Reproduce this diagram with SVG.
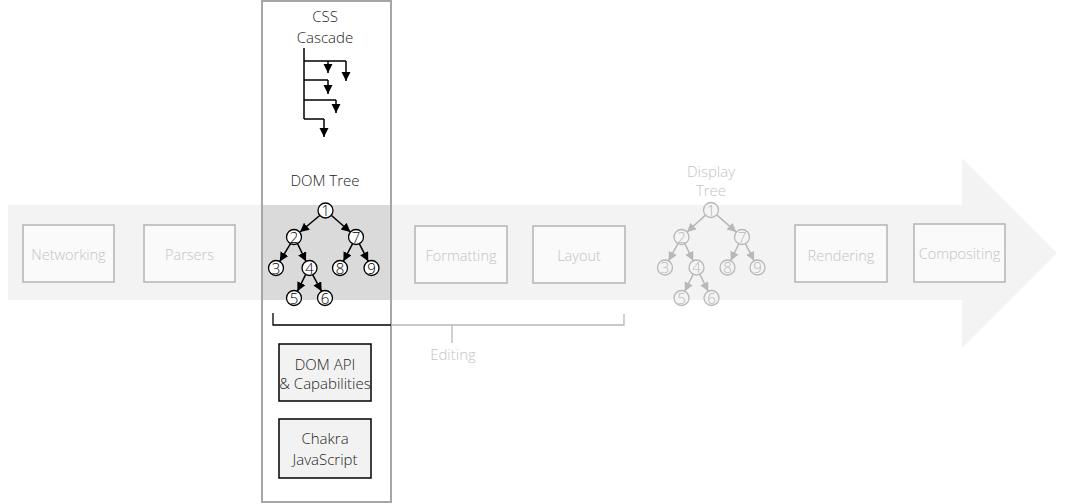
<svg xmlns="http://www.w3.org/2000/svg" width="1072" height="504" viewBox="0 0 1072 504">
<defs>
<marker id="ab" markerUnits="userSpaceOnUse" markerWidth="10" markerHeight="10" refX="9" refY="4.5" orient="auto"><path d="M0,0 L9,4.5 L0,9 z" fill="#000"/></marker>
<marker id="ag" markerUnits="userSpaceOnUse" markerWidth="10" markerHeight="10" refX="9" refY="4.5" orient="auto"><path d="M0,0 L9,4.5 L0,9 z" fill="#b8b8b8"/></marker>
</defs>
<style>
text{font-family:"Open Sans","Noto Sans","Liberation Sans",sans-serif;font-size:15px;font-weight:300;text-anchor:middle}
.stage rect{fill:#fafafa;stroke:#b4b4b4;stroke-width:1.5}
.stage text{fill:#c4c4c4;font-size:14.5px}
.lt{fill:#c4c4c4}
.dk{fill:#222}
.bl{stroke:#000;stroke-width:1.5;fill:none}
.bla{stroke:#000;stroke-width:1.5;fill:none;marker-end:url(#ab)}
.gra{stroke:#b8b8b8;stroke-width:1.5;fill:none;marker-end:url(#ag)}
.dn circle{fill:#fff;stroke:#000;stroke-width:1.3}
.dn text{fill:#000}
.gn circle{fill:#f4f4f4;stroke:#b8b8b8;stroke-width:1.3}
.gn text{fill:#b8b8b8}
.api rect{fill:#f2f2f2;stroke:#000;stroke-width:1.5}
</style>
<polygon id="pipeline" points="8,205 962,205 962,158 1057,253 962,348 962,300 8,300" fill="#f3f3f3"/>
<rect id="dom-highlight" x="262" y="205" width="129" height="95" fill="#dadada"/>
<g id="networking" class="stage"><rect x="23" y="225" width="91" height="57"/><text x="68.5" y="259.5">Networking</text></g>
<g id="parsers" class="stage"><rect x="144" y="225" width="91" height="57"/><text x="189.5" y="259.5">Parsers</text></g>
<g id="formatting" class="stage"><rect x="415" y="226" width="92" height="57"/><text x="461" y="260.5">Formatting</text></g>
<g id="layout" class="stage"><rect x="533" y="226" width="92" height="57"/><text x="579" y="260.5">Layout</text></g>
<g id="rendering" class="stage"><rect x="795" y="225" width="92" height="57"/><text x="841" y="260.5">Rendering</text></g>
<g id="compositing" class="stage"><rect x="914" y="224" width="91" height="58"/><text x="959.5" y="258.5">Compositing</text></g>
<rect id="column" x="262" y="1" width="129" height="501" fill="none" stroke="#a6a6a6" stroke-width="2"/>
<g id="css-cascade">
<text class="dk" x="325" y="22">CSS</text>
<text class="dk" x="325" y="43">Cascade</text>
<path class="bl" d="M304,48 V119 M304,61 H346 M304,80 H328 M304,100 H336 M304,119 H324"/>
<path class="bla" d="M328,61 V73"/>
<path class="bla" d="M346,61 V81"/>
<path class="bla" d="M328,80 V94"/>
<path class="bla" d="M336,100 V113"/>
<path class="bla" d="M324,119 V137"/>
</g>
<text id="dom-tree-label" class="dk" x="325" y="186">DOM Tree</text>
<g id="connectors">
<line class="bla" x1="320" y1="215.2" x2="300" y2="232"/>
<line class="bla" x1="331.5" y1="215.5" x2="350.4" y2="232"/>
<line class="bla" x1="290.5" y1="243.6" x2="279.8" y2="261.4"/>
<line class="bla" x1="297.6" y1="243.7" x2="306" y2="261.4"/>
<line class="bla" x1="352.6" y1="243.7" x2="343.4" y2="261.3"/>
<line class="bla" x1="359.4" y1="243.8" x2="368.2" y2="261.2"/>
<line class="bla" x1="305.6" y1="274.7" x2="297.4" y2="291.3"/>
<line class="bla" x1="312.6" y1="274.7" x2="321.6" y2="291.3"/>
<line class="gra" x1="705.5" y1="215.1" x2="687" y2="232"/>
<line class="gra" x1="716.7" y1="214.9" x2="736.3" y2="232.1"/>
<line class="gra" x1="677.9" y1="243.6" x2="668.6" y2="260.9"/>
<line class="gra" x1="684.8" y1="243.7" x2="693.2" y2="260.8"/>
<line class="gra" x1="738.8" y1="243.8" x2="730.7" y2="260.7"/>
<line class="gra" x1="745.4" y1="243.7" x2="754.1" y2="260.8"/>
<line class="gra" x1="693.2" y1="274.2" x2="684.8" y2="291.3"/>
<line class="gra" x1="699.8" y1="274.2" x2="708.2" y2="291.3"/>
</g>
<g id="dom-tree" class="dn">
<g id="dom-1"><circle cx="325.5" cy="210.5" r="7.5"/><text x="325.5" y="216">1</text></g>
<g id="dom-2"><circle cx="294" cy="237" r="7.5"/><text x="294" y="242.5">2</text></g>
<g id="dom-7"><circle cx="356" cy="237" r="7.5"/><text x="356" y="242.5">7</text></g>
<g id="dom-3"><circle cx="276" cy="268" r="7.5"/><text x="276" y="273.5">3</text></g>
<g id="dom-4"><circle cx="309.5" cy="268" r="7.5"/><text x="309.5" y="273.5">4</text></g>
<g id="dom-8"><circle cx="340" cy="268" r="7.5"/><text x="340" y="273.5">8</text></g>
<g id="dom-9"><circle cx="371.5" cy="268" r="7.5"/><text x="371.5" y="273.5">9</text></g>
<g id="dom-5"><circle cx="294" cy="298" r="7.5"/><text x="294" y="303.5">5</text></g>
<g id="dom-6"><circle cx="325" cy="298" r="7.5"/><text x="325" y="303.5">6</text></g>
</g>
<g id="display-tree-label"><text class="lt" x="711" y="177">Display</text><text class="lt" x="711" y="196">Tree</text></g>
<g id="display-tree" class="gn">
<g id="disp-1"><circle cx="711" cy="210" r="7.5"/><text x="711" y="215.5">1</text></g>
<g id="disp-2"><circle cx="681.5" cy="237" r="7.5"/><text x="681.5" y="242.5">2</text></g>
<g id="disp-7"><circle cx="742" cy="237" r="7.5"/><text x="742" y="242.5">7</text></g>
<g id="disp-3"><circle cx="665" cy="267.5" r="7.5"/><text x="665" y="273">3</text></g>
<g id="disp-4"><circle cx="696.5" cy="267.5" r="7.5"/><text x="696.5" y="273">4</text></g>
<g id="disp-8"><circle cx="727.5" cy="267.5" r="7.5"/><text x="727.5" y="273">8</text></g>
<g id="disp-9"><circle cx="757.5" cy="267.5" r="7.5"/><text x="757.5" y="273">9</text></g>
<g id="disp-5"><circle cx="681.5" cy="298" r="7.5"/><text x="681.5" y="303.5">5</text></g>
<g id="disp-6"><circle cx="711.5" cy="298" r="7.5"/><text x="711.5" y="303.5">6</text></g>
</g>
<g id="editing">
<path d="M273,313 V325 H391" fill="none" stroke="#000" stroke-width="1.3"/>
<path d="M391,325 H624 V314 M452,325 V343" fill="none" stroke="#b8b8b8" stroke-width="1.3"/>
<text class="lt" x="453" y="360">Editing</text>
</g>
<g id="dom-api" class="api"><rect x="279" y="344" width="92" height="57"/><text class="dk" x="325" y="370">DOM API</text><text class="dk" x="325" y="389">&amp; Capabilities</text></g>
<g id="chakra" class="api"><rect x="279" y="419" width="92" height="59"/><text class="dk" x="325" y="444">Chakra</text><text class="dk" x="325" y="465">JavaScript</text></g>
</svg>
